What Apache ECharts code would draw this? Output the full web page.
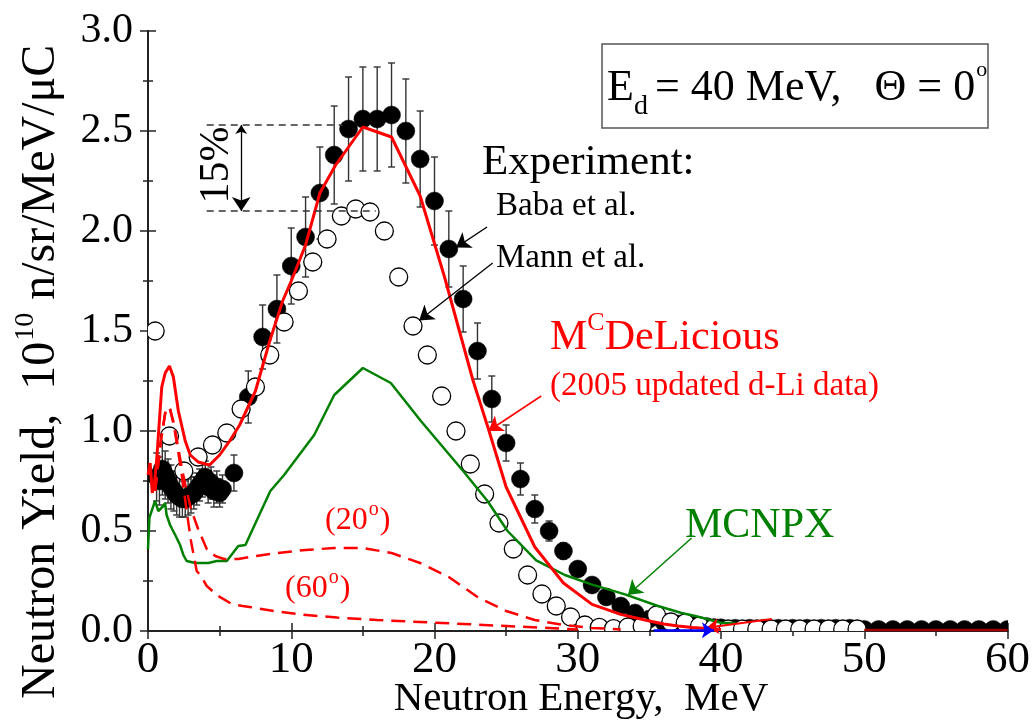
<!DOCTYPE html>
<html>
<head>
<meta charset="utf-8">
<script src="https://cdn.jsdelivr.net/npm/echarts@6/dist/echarts.min.js"></script>
<style>
  html, body { margin: 0; padding: 0; background: #fff; }
  #chart { width: 1033px; height: 728px; }
</style>
</head>
<body>
<div id="chart"></div>
<script>
// ---- Measured neutron yields (10^10 n/sr/MeV/uC), Ed = 40 MeV, 0 deg ----
// Baba et al. (filled circles) with error bars
const babaE = [0.6, 0.8, 1.0, 1.2, 1.4, 1.6, 1.8, 2.0, 2.2, 2.4, 2.6, 2.8, 3.0, 3.2, 3.4, 3.6, 3.8, 4.0, 4.2, 4.4, 4.6, 4.8, 5.0, 5.2,
  6, 7, 8, 9, 10, 11, 12, 13, 14, 15, 16, 17, 18, 19, 20, 21, 22, 23, 24, 25, 26, 27, 28, 29, 30,
  31, 32, 33, 34, 35, 36, 37, 38, 39, 40, 41, 42, 43, 44, 45, 46, 47, 48, 49, 50,
  51, 52, 53, 54, 55, 56, 57, 58, 59, 60];
const babaY = [0.77, 0.75, 0.81, 0.78, 0.75, 0.72, 0.70, 0.68, 0.67, 0.66, 0.66, 0.67, 0.68, 0.69, 0.71, 0.73, 0.75, 0.77, 0.72, 0.74, 0.70, 0.72, 0.69, 0.71,
  0.79, 1.17, 1.47, 1.61, 1.825, 1.97, 2.19, 2.38, 2.51, 2.56, 2.56, 2.58, 2.50, 2.36, 2.15, 1.91, 1.66, 1.40, 1.16, 0.94, 0.76, 0.61, 0.50, 0.40, 0.31,
  0.23, 0.17, 0.125, 0.09, 0.06, 0.045, 0.035, 0.028, 0.022, 0.016, 0.014, 0.014, 0.014, 0.014, 0.014, 0.014, 0.014, 0.014, 0.014, 0.008,
  0.008, 0.008, 0.008, 0.008, 0.008, 0.008, 0.008, 0.008, 0.008, 0.008];
const babaErr = [0.12, 0.12, 0.13, 0.12, 0.11, 0.11, 0.10, 0.10, 0.10, 0.09, 0.09, 0.09, 0.09, 0.08, 0.08, 0.08, 0.08, 0.08, 0.08, 0.08, 0.08, 0.08, 0.07, 0.07,
  0.09, 0.13, 0.16, 0.17, 0.19, 0.20, 0.23, 0.245, 0.26, 0.26, 0.26, 0.26, 0.26, 0.24, 0.22, 0.19, 0.165, 0.14, 0.115, 0.09, 0.08, 0.07, 0.05, 0.04, 0.03,
  0.025, 0.02, 0.015, 0.01, 0, 0, 0, 0, 0, 0, 0, 0, 0, 0, 0, 0, 0, 0, 0, 0,
  0, 0, 0, 0, 0, 0, 0, 0, 0, 0];

// Mann et al. (open circles)
const mannE = [0.5, 1.5, 2.5, 3.5, 4.5, 5.5, 6.5, 7.5, 8.5, 9.5, 10.5, 11.5, 12.5, 13.5, 14.5, 15.5, 16.5, 17.5, 18.5, 19.5,
  20.5, 21.5, 22.5, 23.5, 24.5, 25.5, 26.5, 27.5, 28.5, 29.5, 30.5, 31.5, 32.5, 33.5, 34.5, 35.5, 36.5, 37.5, 38.5, 39.5,
  40.5, 41.5, 42.5, 43.5, 44.5, 45.5, 46.5, 47.5, 48.5, 49.5];
const mannY = [1.50, 0.975, 0.80, 0.87, 0.93, 0.99, 1.11, 1.22, 1.38, 1.545, 1.70, 1.845, 1.96, 2.075, 2.11, 2.095, 2.00, 1.77, 1.525, 1.38,
  1.175, 1.00, 0.835, 0.685, 0.54, 0.41, 0.28, 0.185, 0.125, 0.07, 0.03, 0.018, 0.012, 0.02, 0.025, 0.08, 0.045, 0.04, 0.025, 0.015,
  0.01, 0.01, 0.01, 0.01, 0.01, 0.01, 0.01, 0.01, 0.01, 0.01];

// ---- Calculations ----
// McDeLicious, 0 deg
const mcdE = [0, 0.15, 0.3, 0.45, 0.6, 0.96, 1.2, 1.5, 1.77, 2.12, 2.6, 2.95, 3.5, 4.3, 5.0, 5.7, 6.4, 7.5, 8.5, 9.4, 10, 11, 12, 13.1,
  15, 17, 19, 20.7, 22.7, 23.7, 25, 27, 29, 31, 33, 35, 36, 37, 38, 39, 40];
const mcdY = [0.78, 0.84, 0.69, 0.74, 0.85, 1.22, 1.29, 1.325, 1.27, 1.10, 0.95, 0.88, 0.845, 0.83, 0.88, 0.95, 1.03, 1.20, 1.45, 1.65, 1.75, 1.93, 2.19, 2.33,
  2.52, 2.47, 2.175, 1.77, 1.25, 1.025, 0.72, 0.42, 0.24, 0.133, 0.083, 0.05, 0.035, 0.025, 0.018, 0.012, 0.008];
// McDeLicious high-energy tail
const mcdTailE = [50, 60];
const mcdTailY = [0.005, 0.005];
// McDeLicious, 20 deg and 60 deg
const mcd20E = [0.5, 0.9, 1.2, 1.5, 1.8, 2.1, 2.4, 2.7, 3.0, 3.5, 4.1, 4.7, 5.3, 6.3, 7.5, 9, 11, 13, 15, 17, 19, 21, 23, 25, 27, 29, 31, 33];
const mcd20Y = [0.70, 0.95, 1.09, 1.12, 1.04, 0.92, 0.80, 0.70, 0.61, 0.51, 0.41, 0.375, 0.36, 0.36, 0.375, 0.39, 0.405, 0.415, 0.415, 0.39, 0.34, 0.27, 0.17, 0.10, 0.055, 0.03, 0.015, 0.008];
const mcd60E = [0.5, 0.9, 1.2, 1.5, 1.8, 2.1, 2.4, 2.7, 3.0, 3.4, 3.65, 4.1, 4.9, 5.9, 6.6, 7.1, 8.8, 10.6, 13.2, 16, 19, 22, 25, 28, 30];
const mcd60Y = [0.70, 0.95, 1.09, 1.12, 1.03, 0.90, 0.76, 0.60, 0.45, 0.30, 0.28, 0.225, 0.175, 0.133, 0.125, 0.12, 0.10, 0.083, 0.067, 0.055, 0.045, 0.035, 0.025, 0.015, 0.008];
// MCNPX, 0 deg
const mcnpxE = [0, 0.1, 0.49, 0.72, 1.07, 1.19, 1.3, 1.54, 1.9, 2.24, 2.47, 2.7, 3.3, 4.22, 4.8, 5.5, 6.3, 6.8, 7.7, 8.54, 9.5, 11.6, 13.0,
  15.0, 16.95, 19.05, 22.0, 23.7, 25.1, 27.1, 29.1, 30.95, 33.3, 35.6, 37.25, 38.2, 40.06, 41];
const mcnpxY = [0.41, 0.567, 0.65, 0.60, 0.625, 0.64, 0.58, 0.53, 0.48, 0.43, 0.38, 0.35, 0.34, 0.34, 0.35, 0.35, 0.425, 0.43, 0.57, 0.70, 0.78, 0.98, 1.18,
  1.315, 1.24, 1.05, 0.80, 0.65, 0.50, 0.353, 0.28, 0.233, 0.183, 0.125, 0.09, 0.075, 0.04, 0.04];

// ---- Annotations (data coordinates) ----
const bandLevels = [2.53, 2.10];          // 15 % band
const bandStartE = 4.1;
const bandEndE = [13.6, 15.9];
const bandArrowE = 6.51;
const arrowBaba = [[23.67, 2.02], [21.5, 1.917]];
const arrowMann = [[24.06, 1.84], [18.93, 1.553]];
const arrowMcd = [[27.45, 1.175], [23.76, 1.0]];
const arrowMcnpx = [[37.95, 0.465], [33.5, 0.18]];
const arrowRedLow = [[43.55, 0.06], [39.0, 0.016]];
const arrowBlueLow = [[35.3, 0.004], [39.5, 0.004]];

const xMin = 0, xMax = 60, xStep = 10;
const yMin = 0, yMax = 3, yStep = 0.5;

const serif = "'Liberation Serif','Times New Roman',serif";
const pair = (xs, ys) => xs.map((x, i) => [x, ys[i]]);

const mctx = document.createElement('canvas').getContext('2d');
function tw(s, size) { mctx.font = size + 'px ' + serif; return mctx.measureText(s).width; }

function txt(x, y, text, size, color, extra) {
  return Object.assign({
    type: 'text', x: x, y: y, z: 100, silent: true,
    style: { text: text, fontSize: size, fontFamily: serif, fill: color || '#000', align: 'left', verticalAlign: 'middle' }
  }, extra || {});
}

function arrow(coords, color, width, symbols, size) {
  return {
    type: 'lines', coordinateSystem: 'cartesian2d', xAxisIndex: 0, yAxisIndex: 0,
    data: [{ coords: coords }], symbol: symbols, symbolSize: size, clip: false,
    lineStyle: { color: color, width: width, opacity: 1, curveness: 0 }, z: 20, silent: true
  };
}

function lineSeries(xs, ys, color, width, dashed, z) {
  return {
    type: 'line', data: pair(xs, ys), showSymbol: false, symbol: 'none', smooth: false,
    lineStyle: { color: color, width: width, type: dashed ? [14, 8] : 'solid' }, z: z || 10, silent: true
  };
}

// Circle markers drawn through the axes and clipped to the plot area
function circleSeries(xs, ys, fill, stroke, lw, z) {
  return {
    type: 'custom', z: z, silent: true, clip: true,
    encode: { x: 0, y: 1 },
    data: pair(xs, ys),
    renderItem: function (params, api) {
      const c = api.coord([api.value(0), api.value(1)]);
      return {
        type: 'circle', shape: { cx: c[0], cy: c[1], r: 9 },
        style: { fill: fill, stroke: stroke, lineWidth: lw }
      };
    }
  };
}

// Text pieces with sub/superscripts
const graphics = [];
// Beam / angle box
const boxMain = '= 40 MeV,   \u0398 = 0';
graphics.push({ type: 'rect', shape: { x: 602, y: 44, width: 386, height: 84 }, style: { fill: 'none', stroke: '#555', lineWidth: 1.5 }, z: 90, silent: true });
graphics.push(txt(607, 88, 'E', 44));
graphics.push(txt(634, 107, 'd', 28));
graphics.push(txt(655, 88, boxMain, 44));
graphics.push(txt(655 + tw(boxMain, 44) + 1, 70, 'o', 22));

graphics.push(txt(482, 163, 'Experiment:', 43));
graphics.push(txt(496, 206, 'Baba et al.', 33));
graphics.push(txt(496, 258, 'Mann et al.', 33));

graphics.push(txt(550, 338, 'M', 42, '#ff0000'));
graphics.push(txt(550 + tw('M', 42), 323, 'C', 26, '#ff0000'));
graphics.push(txt(550 + tw('M', 42) + tw('C', 26), 338, 'DeLicious', 42, '#ff0000'));
graphics.push(txt(550, 386, '(2005 updated d-Li data)', 33, '#ff0000'));

graphics.push(txt(685, 526, 'MCNPX', 42, '#008000'));

function angleLabel(x, y, deg) {
  const s = 32, a = '(' + deg;
  const w1 = tw(a, s), w2 = tw('o', 20);
  graphics.push(txt(x, y, a, s, '#ff0000'));
  graphics.push(txt(x + w1 + 1, y - 11, 'o', 20, '#ff0000'));
  graphics.push(txt(x + w1 + w2 + 2, y, ')', s, '#ff0000'));
}
angleLabel(325, 521, '20');
angleLabel(285, 589, '60');

graphics.push(txt(217, 165, '15%', 42, '#000', { rotation: Math.PI / 2 }));
graphics[graphics.length - 1].style.align = 'center';

// Axis titles
graphics.push(txt(581, 699, 'Neutron Energy,  MeV', 41, '#000'));
graphics[graphics.length - 1].style.align = 'center';

(function () {
  const s = 48, p1 = 'Neutron Yield,  10', p2 = '10', p3 = ' n/sr/MeV/\u03BCC';
  const w1 = tw(p1, s), w2 = tw(p2, 28);
  graphics.push({
    type: 'group', x: 41, y: 699, rotation: Math.PI / 2, silent: true,
    children: [
      txt(0, 0, p1, s),
      txt(w1 + 1, -15, p2, 28),
      txt(w1 + w2 + 2, 0, p3, s)
    ]
  });
})();

const axisLine = { show: true, lineStyle: { color: '#222', width: 2 } };
const tick = { show: true, inside: true, length: 8, lineStyle: { color: '#222', width: 1.5 } };
const minor = { show: true, splitNumber: 2, length: 5, lineStyle: { color: '#222', width: 1.5 } };

const option = {
  animation: false,
  backgroundColor: '#ffffff',
  grid: { left: 148, right: 25, top: 31, bottom: 97, containLabel: false },
  xAxis: [
    {
      type: 'value', min: xMin, max: xMax, interval: xStep, position: 'bottom',
      axisLine: axisLine, axisTick: tick, minorTick: minor,
      axisLabel: { show: true, fontSize: 45, fontFamily: serif, color: '#000', margin: 7 },
      splitLine: { show: false }, minorSplitLine: { show: false }
    },
    {
      type: 'value', min: xMin, max: xMax, interval: xStep, position: 'top',
      axisLine: axisLine, axisTick: tick, minorTick: minor,
      axisLabel: { show: false }, splitLine: { show: false }
    }
  ],
  yAxis: [
    {
      type: 'value', min: yMin, max: yMax, interval: yStep, position: 'left',
      axisLine: axisLine, axisTick: tick, minorTick: minor,
      axisLabel: { show: true, fontSize: 42, fontFamily: serif, color: '#000', margin: 15, formatter: v => v.toFixed(1) },
      splitLine: { show: false }, minorSplitLine: { show: false }
    },
    {
      type: 'value', min: yMin, max: yMax, interval: yStep, position: 'right',
      axisLine: axisLine, axisTick: tick, minorTick: minor,
      axisLabel: { show: false }, splitLine: { show: false }
    }
  ],
  series: [
    {
      name: 'Baba errors', type: 'custom', z: 2, silent: true,
      encode: { x: 0, y: 1 },
      data: babaE.map((e, i) => [e, babaY[i], babaErr[i]]),
      renderItem: function (params, api) {
        const x = api.value(0), y = api.value(1), e = api.value(2);
        if (!e) return null;
        const t = api.coord([x, y + e]), b = api.coord([x, y - e]);
        const h = 3.5, st = { stroke: '#333', lineWidth: 1.4 };
        return {
          type: 'group', children: [
            { type: 'line', shape: { x1: t[0], y1: t[1], x2: b[0], y2: b[1] }, style: st },
            { type: 'line', shape: { x1: t[0] - h, y1: t[1], x2: t[0] + h, y2: t[1] }, style: st },
            { type: 'line', shape: { x1: b[0] - h, y1: b[1], x2: b[0] + h, y2: b[1] }, style: st }
          ]
        };
      }
    },
    circleSeries(babaE, babaY, '#000', '#000', 0.5, 3),
    circleSeries(mannE, mannY, '#fff', '#000', 1.3, 4),
    lineSeries(mcdTailE, mcdTailY, '#a00000', 2.5, false, 9),
    lineSeries(mcnpxE, mcnpxY, '#008000', 2.5, false, 10),
    lineSeries(mcd20E, mcd20Y, '#ff0000', 2.5, true, 11),
    lineSeries(mcd60E, mcd60Y, '#ff0000', 2.5, true, 11),
    lineSeries(mcdE, mcdY, '#ff0000', 3, false, 12),
    // 15 % band
    {
      type: 'line', data: [[bandStartE, bandLevels[0]], [bandEndE[0], bandLevels[0]]], showSymbol: false, symbol: 'none',
      lineStyle: { color: '#333', width: 1.3, type: [7, 5] }, z: 15, silent: true
    },
    {
      type: 'line', data: [[bandStartE, bandLevels[1]], [bandEndE[1], bandLevels[1]]], showSymbol: false, symbol: 'none',
      lineStyle: { color: '#333', width: 1.3, type: [7, 5] }, z: 15, silent: true
    },
    arrow([[bandArrowE, bandLevels[0]], [bandArrowE, bandLevels[1]]], '#000', 1.3, ['arrow', 'arrow'], [9, 14]),
    arrow(arrowBaba, '#000', 1.3, ['none', 'arrow'], [10, 14]),
    arrow(arrowMann, '#000', 1.3, ['none', 'arrow'], [10, 14]),
    arrow(arrowMcd, '#ff0000', 1.5, ['none', 'arrow'], [10, 14]),
    arrow(arrowMcnpx, '#008000', 1.5, ['none', 'arrow'], [10, 14]),
    arrow(arrowRedLow, '#ff0000', 2, ['none', 'arrow'], [9, 12]),
    arrow(arrowBlueLow, '#0000ff', 2.5, ['none', 'arrow'], [9, 12])
  ],
  graphic: graphics
};

const chart = echarts.init(document.getElementById('chart'));
chart.setOption(option);
</script>
</body>
</html>
